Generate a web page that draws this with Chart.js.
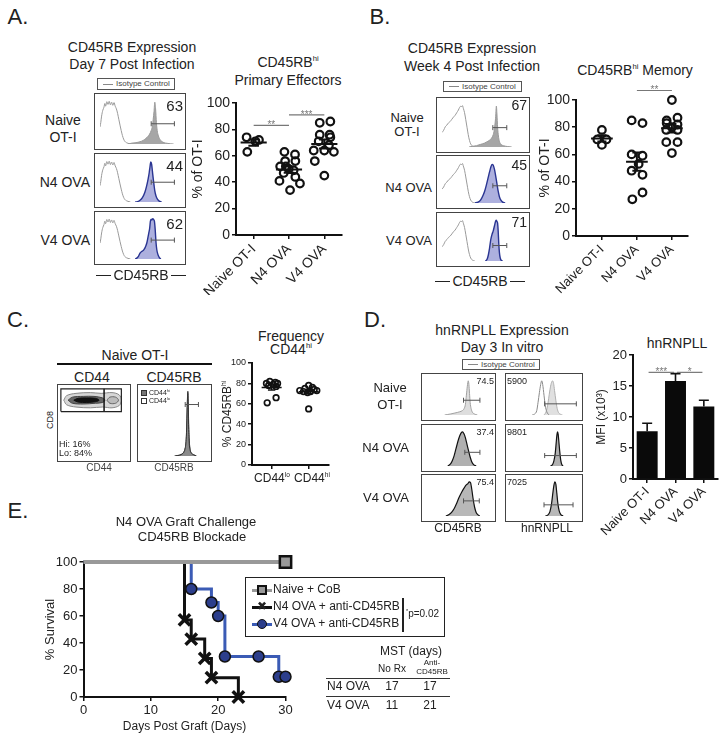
<!DOCTYPE html>
<html>
<head>
<meta charset="utf-8">
<script src="https://cdn.jsdelivr.net/npm/chart.js@4.4.1/dist/chart.umd.min.js"></script>
<style>
html, body { margin: 0; padding: 0; background: #fff; }
#fig { position: relative; width: 724px; height: 740px; overflow: hidden; font-family: 'Liberation Sans', Arial, sans-serif; color: #222; }
.t { position: absolute; white-space: nowrap; line-height: 1.15; }
.box { position: absolute; box-sizing: border-box; border: 1px solid #444; }
.ln { position: absolute; }
canvas { position: absolute; }
sup { font-size: 0.55em; vertical-align: 0.75em; line-height: 0; }
</style>
</head>
<body>
<div id="fig"></div>
<script>
// ---------------- data ----------------
const groupCats = ['Naive OT-I', 'N4 OVA', 'V4 OVA'];

// A: CD45RBhi primary effectors, % of OT-I
const effNaive = [74, 71, 72, 63];
const effN4 = [63, 61, 56, 56, 52, 52, 50, 49, 47, 44, 41, 39, 34];
const effV4 = [85, 86, 76, 76, 74, 71, 68, 63, 64, 64, 56, 45];
const effNaiveJit = [-0.2, 0.05, 0.15, -0.18];
const effN4Jit = [-0.13, 0.17, -0.11, 0.18, -0.25, -0.09, -0.01, 0.13, -0.15, 0.18, -0.27, 0.31, 0.03];
const effV4Jit = [-0.13, 0.17, -0.13, 0.15, 0.17, -0.16, 0.13, 0.27, -0.3, 0, -0.27, 0];
const effSig = [[0, 1, 83, '**'], [1, 2, 91, '***']];

// B: CD45RBhi memory, % of OT-I
const memNaive = [78, 71, 71, 67];
const memNaiveJit = [0, -0.13, 0.13, 0];
const memN4 = [85, 83, 60, 59, 53, 48, 45, 32, 27];
const memN4Jit = [-0.15, 0.16, -0.15, 0.16, 0.05, -0.15, 0.16, 0.16, -0.13];
const memV4 = [100, 85, 87, 83, 82, 78, 78, 80, 69, 69, 61];
const memV4Jit = [0, -0.15, 0.16, -0.15, 0.16, -0.16, 0.16, 0, -0.16, 0.16, 0];
const memSig = [[1, 2, 107, '**']];

// C: frequency CD44hi, % CD45RBhi
const freqCats = ['CD44lo', 'CD44hi'];
const freqLo = [82, 81, 80, 80, 79, 78, 77, 66, 61];
const freqLoJit = [-0.05, 0.1, -0.14, 0.16, 0.04, -0.08, 0.12, 0.12, -0.12];
const freqHi = [73, 75, 78, 76, 73, 72, 71, 72, 74, 55];
const freqHiJit = [-0.24, -0.1, 0, 0.1, 0.22, 0.05, -0.03, -0.14, 0.15, 0];

// D: hnRNPLL MFI (x10^3)
const mfiMean = [7.7, 15.8, 11.7];
const mfiSem = [1.3, 1.2, 1.0];
const mfiSig = [[0.05, 0.95, 17.2, '***'], [1.05, 1.95, 17.2, '*']];

// E: survival
const naiveDays = [0, 30];
const naiveSurv = [100, 100];
const n4Days = [0, 15, 16, 18, 19, 23];
const n4Surv = [100, 57.1, 42.9, 28.6, 14.3, 0];
const v4Days = [0, 16, 19, 20, 21, 26, 29, 30];
const v4Surv = [100, 80, 70, 60, 30, 30, 15, 15];

// histograms: [channel %, count % of max]
const isoA = [[0,38],[1,48],[2,62],[3.5,75],[5,82],[6,90],[7,84],[8.5,94],[10,88],[11.5,95],[13,87],[14.5,93],[16,86],[17.5,92],[19,84],[20.5,78],[22,68],[23.5,55],[25,42],[26.5,30],[28,19],[29.5,11],[31,6],[33,3],[35,1.5],[38,0]];
const naiveA = [[35,0],[40,2],[45,3],[50,5],[54,8],[57,12],[60,17],[62,22],[64,30],[65.5,40],[66.5,55],[67.5,72],[68.5,93],[69.5,78],[70.5,48],[71.5,30],[73,18],[75,10],[77,6],[80,3],[84,1.5],[88,0.5],[92,0]];
const n4A = [[44,0],[47,1],[50,4],[53,10],[56,22],[58,35],[60,52],[61.5,68],[62.5,82],[63.5,93],[64.5,88],[65.5,72],[66.5,55],[67.5,40],[68.5,26],[70,14],[72,6],[74,2],[77,0]];
const v4A = [[44,0],[46,2],[48,6],[50,14],[52,18],[54,20],[55.5,24],[57,30],[58.5,38],[60,52],[61,62],[62,72],[63,90],[64,95],[65,93],[66,96],[67,94],[68,90],[69,70],[70,40],[71,22],[72.5,10],[74,4],[76,0]];
const isoB = [[0,33],[2,38],[4,46],[6,50],[8,55],[10,58],[12,63],[14,68],[16,72],[18,78],[20,84],[21.5,90],[23,93],[24,91],[25,94],[26,88],[27.5,78],[29,62],[30.5,45],[32,28],[33.5,15],[35,7],[36.5,3],[38,1],[40,0]];
const naiveB = [[33,0],[37,1.5],[42,3],[47,6],[52,9],[56,13],[59,17],[61,22],[62.5,28],[63.5,36],[64.5,50],[65.5,70],[66.3,93],[67,75],[67.8,45],[68.8,25],[70,13],[72,6],[75,3],[80,1],[85,0]];
const n4B = [[40,0],[44,2],[47,7],[50,18],[52,28],[54,42],[56,58],[58,74],[59.5,85],[61,92],[62.5,90],[64,80],[65.5,64],[67,46],[68.5,28],[70,15],[72,6],[74,2],[77,0]];
const v4B = [[53,0],[55,4],[56.5,14],[58,30],[59.5,50],[61,62],[62.5,70],[64,82],[65,90],[66,95],[67,92],[67.8,88],[68.5,70],[69.2,42],[70,20],[71,7],[72.5,1],[74,0]];
const cd44loHist = [[50,0],[56,1],[61,2.5],[64,5],[66.5,10],[68.5,22],[69.5,45],[70.5,82],[71.2,98],[72,70],[73,32],[74.5,12],[76.5,5],[80,2],[85,0]];
const cd44hiHist = [[52,0],[58,1],[62,3],[65,6],[67,12],[68.5,25],[69.5,50],[70.3,80],[71,95],[71.7,75],[72.5,40],[73.5,18],[75,8],[77,4],[80,2],[84,0]];
const isoD = [[32,0],[36,3],[39,12],[41,35],[43,62],[45,85],[46.5,95],[48,85],[50,55],[52,25],[54,10],[56,3],[58,0]];
const d45Naive = [[28,0],[33,1.5],[38,3],[43,5],[48,7],[52,9],[56,12],[59,18],[61,30],[62.5,55],[64,80],[65.5,95],[66.5,85],[67.5,60],[68.5,35],[70,18],[72,8],[75,3],[80,0]];
const d45N4 = [[33,0],[37,5],[40,14],[43,28],[46,48],[49,68],[52,84],[54.5,93],[56.5,95],[58.5,90],[61,78],[63.5,60],[66,42],[68.5,25],[71,12],[74,4],[78,0]];
const d45V4 = [[30,0],[35,4],[39,10],[43,20],[47,35],[51,52],[55,66],[59,78],[62,86],[65,90],[67,95],[69,93],[71,75],[73,50],[75.5,25],[78,10],[81,3],[84,0]];
const hnNaive = [[50,0],[53,8],[55,22],[57,45],[59,70],[61,88],[63,95],[64.5,88],[66,68],[68,40],[70,18],[72,7],[75,2],[78,0]];
const hnN4 = [[60,0],[63,4],[65,14],[67,35],[68.5,65],[69.5,85],[70.5,95],[71.5,88],[72.5,68],[74,38],[75.5,15],[77,4],[79,0]];
const hnV4 = [[52,0],[56,3],[59,12],[61.5,35],[63.5,65],[65,85],[66.5,95],[68,88],[69.5,62],[71,35],[73,14],[75.5,4],[79,0]];

// CD44 x CD8 contour outlines
const cd44Outer = [[8,80],[12,74],[25,71],[45,70],[62,71],[75,70],[85,73],[88,80],[85,87],[75,90],[60,89],[45,90],[25,89],[12,86],[8,80]];
const cd44Mid = [[14,80],[20,76],[35,75],[52,76],[62,77],[65,80],[62,83],[50,85],[35,85],[20,84],[14,80]];
const cd44Core = [[22,80],[28,77.5],[40,77],[52,78],[57,80],[52,82.5],[40,83],[28,82.5],[22,80]];
const cd44Blob = [[68,80],[72,76],[80,76],[84,80],[80,84],[72,84],[68,80]];
const cd44Gate = [[4,65],[4,95],[88,95],[88,65],[4,65]];
const cd44Split = [[64,65],[64,95]];

// ---------------- setup ----------------
const FONT = "'Liberation Sans', Arial, sans-serif";
Chart.defaults.font.family = FONT;
Chart.defaults.color = '#222';
Chart.defaults.animation = false;
Chart.defaults.responsive = false;
Chart.defaults.plugins.legend.display = false;
Chart.defaults.plugins.tooltip.enabled = false;

const fig = document.getElementById('fig');

function lab(html, x, y, size, anchor, rot) {
  const d = document.createElement('div');
  d.className = 't';
  d.innerHTML = html;
  d.style.fontSize = size + 'px';
  d.style.left = x + 'px';
  d.style.top = y + 'px';
  const tx = anchor === 'l' ? '0' : anchor === 'r' ? '-100%' : '-50%';
  d.style.transform = 'translate(' + tx + ',-50%)' + (rot ? ' rotate(' + rot + 'deg)' : '');
  fig.appendChild(d);
  return d;
}
function rect(x, y, w, h, css) {
  const d = document.createElement('div');
  d.className = 'ln';
  d.style.cssText += 'left:' + x + 'px;top:' + y + 'px;width:' + w + 'px;height:' + h + 'px;box-sizing:border-box;' + (css || '');
  fig.appendChild(d);
  return d;
}
function hline(x1, x2, y, w, c) { return rect(x1, y - (w || 1) / 2, x2 - x1, w || 1, 'background:' + (c || '#222')); }
function vline(x, y1, y2, w, c) { return rect(x - (w || 1) / 2, y1, w || 1, y2 - y1, 'background:' + (c || '#222')); }
function cv(x, y, w, h) {
  const c = document.createElement('canvas');
  c.width = w; c.height = h;
  c.style.left = x + 'px'; c.style.top = y + 'px';
  c.style.width = w + 'px'; c.style.height = h + 'px';
  fig.appendChild(c);
  return c;
}

const mean = a => a.reduce((s, v) => s + v, 0) / a.length;
const sem = a => { const m = mean(a); return Math.sqrt(a.reduce((s, v) => s + (v - m) * (v - m), 0) / (a.length - 1) / a.length); };

// mean +/- SEM lines
const meanSem = {
  id: 'meanSem',
  afterDatasetsDraw(chart, args, o) {
    const { ctx, scales: { x, y } } = chart;
    const unit = x.getPixelForValue(1) - x.getPixelForValue(0);
    ctx.save();
    ctx.strokeStyle = '#111';
    ctx.lineWidth = o.lw;
    o.groups.forEach((g, i) => {
      const m = mean(g), s = sem(g), cx = x.getPixelForValue(i);
      const hw = o.hw * unit, cw = o.cw * unit;
      const ym = y.getPixelForValue(m), yl = y.getPixelForValue(m - s), yh = y.getPixelForValue(m + s);
      ctx.beginPath();
      ctx.moveTo(cx - hw, ym); ctx.lineTo(cx + hw, ym);
      ctx.moveTo(cx, yl); ctx.lineTo(cx, yh);
      ctx.moveTo(cx - cw, yl); ctx.lineTo(cx + cw, yl);
      ctx.moveTo(cx - cw, yh); ctx.lineTo(cx + cw, yh);
      ctx.stroke();
    });
    ctx.restore();
  }
};

// significance bars
const sigBars = {
  id: 'sigBars',
  afterDatasetsDraw(chart, args, o) {
    const { ctx, scales: { x, y } } = chart;
    ctx.save();
    o.items.forEach(([a, b, v, t]) => {
      const x1 = x.getPixelForValue(a), x2 = x.getPixelForValue(b), py = y.getPixelForValue(v);
      ctx.strokeStyle = '#777';
      ctx.lineWidth = 1.2;
      ctx.beginPath(); ctx.moveTo(x1, py); ctx.lineTo(x2, py); ctx.stroke();
      ctx.fillStyle = '#777';
      ctx.font = o.size + 'px ' + FONT;
      ctx.textAlign = 'center';
      ctx.textBaseline = 'alphabetic';
      ctx.fillText(t, (x1 + x2) / 2, py + o.size * 0.3);
    });
    ctx.restore();
  }
};

// upward error bars for bar chart
const errUp = {
  id: 'errUp',
  afterDatasetsDraw(chart, args, o) {
    const { ctx, scales: { x, y } } = chart;
    ctx.save();
    ctx.strokeStyle = '#111';
    ctx.lineWidth = 1.6;
    o.vals.forEach((v, i) => {
      const px = x.getPixelForValue(i), y0 = y.getPixelForValue(v), y1 = y.getPixelForValue(v + o.sems[i]);
      ctx.beginPath();
      ctx.moveTo(px, y0); ctx.lineTo(px, y1);
      ctx.moveTo(px - o.cap, y1); ctx.lineTo(px + o.cap, y1);
      ctx.stroke();
    });
    ctx.restore();
  }
};

function yAxis(min, max, step, size, w, title, tsize) {
  return {
    min: min, max: max,
    border: { color: '#111', width: 2 },
    grid: { drawOnChartArea: false, color: '#111', lineWidth: 1.5, tickLength: 4 },
    ticks: { stepSize: step, font: { size: size }, padding: 2, color: '#222' },
    title: { display: !!title, text: title || '', font: { size: tsize || size }, padding: { top: 2, bottom: 0 }, color: '#222' },
    afterFit: s => { s.width = w; }
  };
}

function catAxis(cats, min, max, size, h, rot, show) {
  return {
    type: 'linear', min: min, max: max,
    border: { color: '#111', width: 2 },
    grid: { drawOnChartArea: false, color: '#111', lineWidth: 1.5, tickLength: 4 },
    afterBuildTicks: s => { s.ticks = cats.map((c, i) => ({ value: i })); },
    ticks: { autoSkip: false, minRotation: rot, maxRotation: rot, font: { size: size }, color: '#222', padding: 2,
             callback: v => show ? cats[v] : '' },
    afterFit: s => { s.height = h; }
  };
}

function dotPlot(c, o) {
  const ds = o.groups.map((g, gi) => ({
    data: g.map((v, i) => ({ x: gi + o.jit[gi][i], y: v })),
    pointRadius: o.r, pointBorderWidth: o.bw, pointBorderColor: '#111',
    pointBackgroundColor: 'rgba(255,255,255,0)', showLine: false, clip: false
  }));
  return new Chart(c, {
    type: 'scatter',
    data: { datasets: ds },
    plugins: [meanSem, sigBars],
    options: {
      layout: { padding: { top: o.pt, right: o.pr, left: 0, bottom: 0 } },
      scales: {
        x: catAxis(o.cats, o.xmin, o.xmax, o.xs, o.xH, o.rot, o.showX),
        y: yAxis(0, 100, 20, o.ys, o.yW, o.title, o.ts)
      },
      plugins: {
        meanSem: { groups: o.groups, hw: o.hw, cw: o.cw, lw: o.mlw },
        sigBars: { items: o.sig, size: o.ss }
      }
    }
  });
}

function facs(x, y, w, h, curves, gate) {
  const b = document.createElement('div');
  b.className = 'box';
  b.style.left = x + 'px'; b.style.top = y + 'px';
  b.style.width = w + 'px'; b.style.height = h + 'px';
  fig.appendChild(b);
  const ds = [];
  if (gate) {
    ds.push({
      data: [{ x: gate[0], y: gate[2] }, { x: gate[1], y: gate[2] }],
      borderColor: '#555', borderWidth: 1, fill: false,
      pointStyle: 'line', rotation: 90, pointRadius: 2.5, pointBorderWidth: 1, pointBorderColor: '#555'
    });
  }
  curves.forEach(cu => ds.push({
    data: cu.d.map(p => ({ x: p[0], y: p[1] })),
    borderColor: cu.line, borderWidth: cu.lw || 1,
    backgroundColor: cu.fill || 'rgba(0,0,0,0)',
    fill: cu.fill ? 'origin' : false,
    pointRadius: 0, cubicInterpolationMode: 'monotone'
  }));
  return new Chart(cv(x + 1, y + 1, w - 2, h - 2), {
    type: 'line',
    data: { datasets: ds },
    options: {
      layout: { padding: 0 },
      scales: {
        x: { type: 'linear', min: 0, max: 100, display: false },
        y: { min: 0, max: 100, display: false }
      }
    }
  });
}

function isoLegend(x, y, w, h) {
  rect(x, y, w, h, 'border:1px solid #555;');
  hline(x + 6, x + 16, y + h / 2, 1, '#888');
  lab('Isotype Control', x + 19, y + h / 2, 8, 'l').style.color = '#444';
}

// ---------------- panel letters ----------------
lab('A.', 18, 17, 22);
lab('B.', 380, 17, 22);
lab('C.', 18, 320, 22);
lab('D.', 375, 320, 22);
lab('E.', 18, 511, 22);

// ---------------- panel A ----------------
lab('CD45RB Expression', 132, 47, 14);
lab('Day 7 Post Infection', 132, 64, 14);
isoLegend(97, 78, 78, 12);
lab('Naive', 63, 120, 14);
lab('OT-I', 63, 137, 14);
lab('N4 OVA', 90, 182, 14, 'r');
lab('V4 OVA', 90, 240, 14, 'r');

const lavender = '#adb0de', navy = '#2a3592';
facs(94, 93, 92, 57, [{ d: isoA, line: '#9a9a9a' }, { d: naiveA, line: '#999', fill: '#a6a6a6' }], [64, 93, 45]);
facs(94, 153, 92, 55, [{ d: isoA, line: '#9a9a9a' }, { d: n4A, line: navy, fill: lavender, lw: 1.4 }], [64, 93, 46]);
facs(94, 211, 92, 54, [{ d: isoA, line: '#9a9a9a' }, { d: v4A, line: navy, fill: lavender, lw: 1.4 }], [64, 93, 45]);
lab('63', 183, 106, 15, 'r');
lab('44', 183, 166, 15, 'r');
lab('62', 183, 224, 15, 'r');
lab('CD45RB', 141, 275, 14);
hline(96, 111, 275, 1);
hline(171, 186, 275, 1);

lab('CD45RB<sup>hi</sup>', 288, 62, 14);
lab('Primary Effectors', 288, 80, 14);
dotPlot(cv(188, 90, 162, 205), {
  groups: [effNaive, effN4, effV4], jit: [effNaiveJit, effN4Jit, effV4Jit], cats: groupCats,
  xmin: -0.5, xmax: 2.5, xs: 14, xH: 60, rot: 45, showX: true,
  ys: 14, yW: 48, title: '% of OT-I', ts: 14, pt: 13, pr: 8,
  r: 3.8, bw: 2.2, hw: 0.37, cw: 0.15, mlw: 2, sig: effSig, ss: 10
});

// ---------------- panel B ----------------
lab('CD45RB Expression', 472, 48, 14);
lab('Week 4 Post Infection', 472, 66, 14);
isoLegend(443, 81, 79, 11);
lab('Naive', 407, 118, 13);
lab('OT-I', 407, 132, 13);
lab('N4 OVA', 432, 188, 13, 'r');
lab('V4 OVA', 432, 241, 13, 'r');
facs(436, 97, 94, 56, [{ d: isoB, line: '#9a9a9a' }, { d: naiveB, line: '#999', fill: '#a6a6a6' }], [62, 79, 44]);
facs(436, 155, 94, 54, [{ d: isoB, line: '#9a9a9a' }, { d: n4B, line: navy, fill: lavender, lw: 1.4 }], [62, 79, 41]);
facs(436, 212, 94, 55, [{ d: isoB, line: '#9a9a9a' }, { d: v4B, line: navy, fill: lavender, lw: 1.4 }], [62, 79, 36]);
lab('67', 527, 105, 14, 'r');
lab('45', 527, 165, 14, 'r');
lab('71', 527, 222, 14, 'r');
lab('CD45RB', 480, 281, 14);
hline(435, 450, 281, 1);
hline(510, 525, 281, 1);

lab('CD45RB<sup>hi</sup> Memory', 635, 70, 14);
dotPlot(cv(535, 78, 160, 222), {
  groups: [memNaive, memN4, memV4], jit: [memNaiveJit, memN4Jit, memV4Jit], cats: groupCats,
  xmin: -0.74, xmax: 2.46, xs: 13, xH: 64, rot: 45, showX: true,
  ys: 14, yW: 41, title: '% of OT-I', ts: 14, pt: 22, pr: 7,
  r: 3.8, bw: 2.2, hw: 0.31, cw: 0.13, mlw: 2, sig: memSig, ss: 10
});

// ---------------- panel C ----------------
lab('Naive OT-I', 135, 355, 14);
hline(57, 212, 364, 2, '#111');
lab('CD44', 92, 377, 14);
lab('CD45RB', 174, 377, 14);
lab('CD8', 50, 420, 9, 'c', -90);

(function () {
  rect(57, 384, 74, 78, 'border:1px solid #444;');
  const poly = (d, line, fill, lw) => ({
    data: d.map(p => ({ x: p[0], y: p[1] })), borderColor: line, borderWidth: lw,
    backgroundColor: fill || 'rgba(0,0,0,0)', fill: fill ? 'shape' : false, pointRadius: 0, tension: fill ? 0.35 : 0
  });
  new Chart(cv(58, 385, 72, 76), {
    type: 'line',
    data: { datasets: [
      poly(cd44Gate, '#222', null, 1.2),
      poly(cd44Split, '#111', null, 1.5),
      poly(cd44Core, '#111', '#111', 1),
      poly(cd44Mid, '#444', '#666', 1),
      poly(cd44Blob, '#666', '#bbb', 1),
      poly(cd44Outer, '#888', '#d6d6d6', 1)
    ] },
    options: {
      layout: { padding: 0 },
      scales: { x: { type: 'linear', min: 0, max: 100, display: false }, y: { min: 0, max: 100, display: false } }
    }
  });
})();
lab('Hi: 16%', 59, 444, 9, 'l');
lab('Lo: 84%', 59, 453, 9, 'l');

facs(137, 384, 75, 78, [{ d: cd44hiHist, line: '#333', fill: '#8a8a8a' }, { d: cd44loHist, line: '#222', fill: '#ffffff' }], [67, 88, 78]);
rect(141, 390, 6, 6, 'background:#777;border:1px solid #333;');
rect(141, 398, 6, 6, 'background:#fff;border:1px solid #333;');
lab('CD44<sup>hi</sup>', 149, 393, 7, 'l');
lab('CD44<sup>lo</sup>', 149, 401, 7, 'l');
lab('CD44', 99, 468, 10).style.color = '#444';
lab('CD45RB', 174, 468, 10).style.color = '#444';

lab('Frequency', 291, 336, 14);
lab('CD44<sup>hi</sup>', 291, 349, 14);
lab('% CD45RB<sup>hi</sup>', 228, 414, 12, 'c', -90);
dotPlot(cv(222, 352, 112, 140), {
  groups: [freqLo, freqHi], jit: [freqLoJit, freqHiJit], cats: freqCats,
  xmin: -0.53, xmax: 1.53, xs: 12, xH: 27, rot: 0, showX: false,
  ys: 9, yW: 30, title: '', ts: 10, pt: 11, pr: 4,
  r: 2.8, bw: 1.7, hw: 0.27, cw: 0.1, mlw: 1.5, sig: [], ss: 8
});
lab('CD44<sup>lo</sup>', 272, 479, 12);
lab('CD44<sup>hi</sup>', 312, 479, 12);

// ---------------- panel D ----------------
lab('hnRNPLL Expression', 502, 330, 14);
lab('Day 3 In vitro', 502, 347, 14);
isoLegend(462, 359, 78, 11);
lab('Naive', 390, 388, 13);
lab('OT-I', 390, 405, 13);
lab('N4 OVA', 409, 448, 13, 'r');
lab('V4 OVA', 409, 498, 13, 'r');

facs(421, 373, 75, 48, [{ d: d45Naive, line: '#a0a0a0', fill: '#dedede' }], [58, 84, 41]);
facs(505, 373, 78, 48, [{ d: isoD, line: '#8a8a8a' }, { d: hnNaive, line: '#b0b0b0', fill: '#e0e0e0' }], [51, 99, 31]);
facs(421, 424, 75, 48, [{ d: d45N4, line: '#111', fill: '#b0b0b0', lw: 1.2 }], [60, 84, 38]);
facs(505, 424, 78, 48, [{ d: hnN4, line: '#111', fill: '#b0b0b0', lw: 1.2 }], [51, 99, 29]);
facs(421, 474, 75, 48, [{ d: d45V4, line: '#111', fill: '#b8b8b8', lw: 1.2 }], [58, 83, 42]);
facs(505, 474, 78, 48, [{ d: hnV4, line: '#111', fill: '#b8b8b8', lw: 1.2 }], [50, 94, 31]);
lab('74.5', 494, 381, 9, 'r');
lab('5900', 507, 381, 9, 'l');
lab('37.4', 494, 432, 9, 'r');
lab('9801', 507, 432, 9, 'l');
lab('75.4', 494, 482, 9, 'r');
lab('7025', 507, 482, 9, 'l');
lab('CD45RB', 458, 529, 12);
lab('hnRNPLL', 547, 529, 12);

lab('hnRNPLL', 677, 343, 14);
new Chart(cv(592, 340, 131, 207), {
  type: 'bar',
  data: { labels: groupCats, datasets: [{ data: mfiMean, backgroundColor: '#0a0a0a', borderWidth: 0, barPercentage: 0.74, categoryPercentage: 1 }] },
  plugins: [errUp, sigBars],
  options: {
    layout: { padding: { top: 15, right: 5, left: 0, bottom: 0 } },
    scales: {
      x: {
        border: { color: '#111', width: 2 },
        grid: { drawOnChartArea: false, offset: false, color: '#111', lineWidth: 1.5, tickLength: 4 },
        ticks: { minRotation: 45, maxRotation: 45, font: { size: 13 }, color: '#222', padding: 1 },
        afterFit: s => { s.height = 68; }
      },
      y: yAxis(0, 20, 5, 13, 41, 'MFI (x10³)', 12)
    },
    plugins: { errUp: { vals: mfiMean, sems: mfiSem, cap: 5 }, sigBars: { items: mfiSig, size: 10 } }
  }
});

// ---------------- panel E ----------------
lab('N4 OVA Graft Challenge', 186, 522, 13);
lab('CD45RB Blockade', 192, 537, 13);

function survDs(days, surv, color, lw, style, r, fill, bw) {
  return {
    data: days.map((d, i) => ({ x: d, y: surv[i] })),
    borderColor: color, borderWidth: lw, stepped: true, fill: false, clip: false,
    pointStyle: style, pointRadius: c => c.dataIndex === 0 ? 0 : r,
    pointBackgroundColor: fill, pointBorderColor: '#111', pointBorderWidth: bw
  };
}
new Chart(cv(41, 550, 256, 187), {
  type: 'line',
  data: { datasets: [
    survDs(naiveDays, naiveSurv, '#999', 4, 'rect', 8, '#999', 2.5),
    survDs(n4Days, n4Surv, '#111', 3, 'crossRot', 8, '#111', 3.5),
    survDs(v4Days, v4Surv, '#3b5bb5', 3, 'circle', 5.5, '#2c3e8c', 1.5)
  ] },
  options: {
    layout: { padding: { top: 12, right: 9, left: 0, bottom: 0 } },
    scales: {
      x: {
        type: 'linear', min: 0, max: 30,
        border: { color: '#111', width: 2 },
        grid: { drawOnChartArea: false, color: '#111', lineWidth: 1.5, tickLength: 4 },
        ticks: { stepSize: 10, font: { size: 13 }, color: '#222', padding: 2 },
        title: { display: true, text: 'Days Post Graft (Days)', font: { size: 12 }, padding: { top: 0, bottom: 3 }, color: '#222' },
        afterFit: s => { s.height = 40; }
      },
      y: yAxis(0, 100, 20, 13, 42.5, '% Survival', 13)
    }
  }
});

// legend
rect(245, 577, 200, 60, 'border:1.5px solid #222;');
hline(252, 272, 590, 3, '#999');
rect(257, 585, 10, 10, 'background:#999;border:2px solid #111;');
lab('Naive + CoB', 273, 590, 12, 'l');
hline(252, 272, 607, 3, '#111');
lab('✖', 262, 607, 12).style.fontFamily = "'DejaVu Sans', sans-serif";
lab('N4 OVA + anti-CD45RB', 273, 607, 12, 'l');
hline(252, 272, 624, 3, '#3b5bb5');
rect(257, 619, 10, 10, 'background:#2c3e8c;border:1.5px solid #111;border-radius:50%;');
lab('V4 OVA + anti-CD45RB', 273, 624, 12, 'l');
vline(403, 598, 632, 1.5, '#222');
lab('<sup>*</sup>p=0.02', 406, 614, 10, 'l');

// MST table
lab('MST (days)', 411, 652, 12);
lab('No Rx', 392, 669, 10);
lab('Anti-', 432, 663, 8);
lab('CD45RB', 432, 672, 8);
hline(326, 450, 678, 1, '#333');
lab('N4 OVA', 327, 687, 12, 'l');
lab('17', 392, 687, 12);
lab('17', 430, 687, 12);
hline(326, 450, 696, 1, '#333');
lab('V4 OVA', 327, 706, 12, 'l');
lab('11', 392, 706, 12);
lab('21', 430, 706, 12);
</script>
</body>
</html>
